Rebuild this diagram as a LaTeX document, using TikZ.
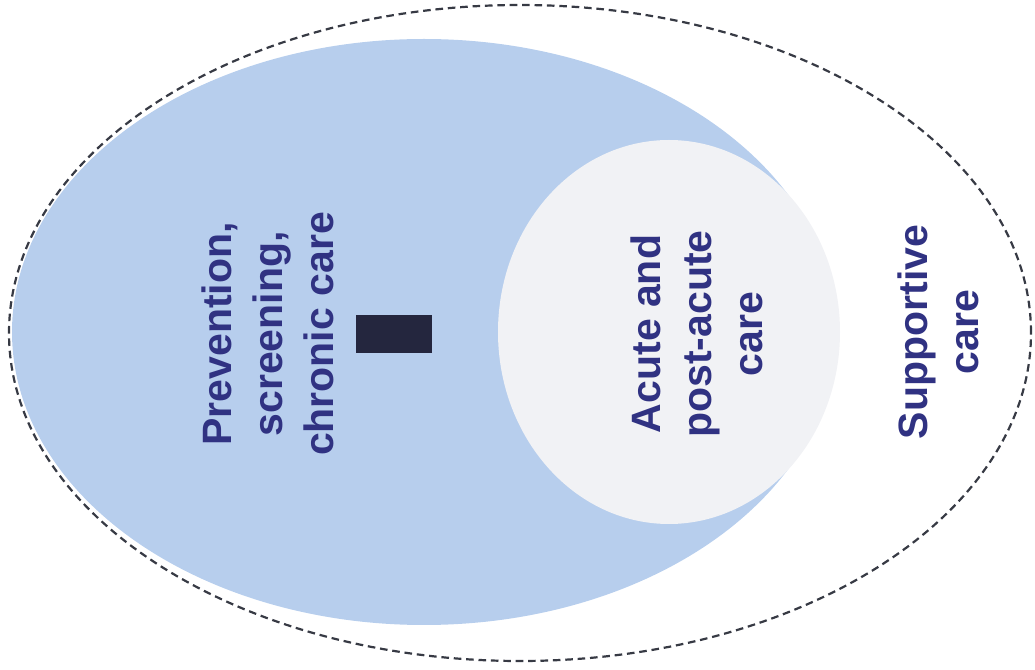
\documentclass[tikz,border=0pt]{standalone}
\usepackage{fontspec}
\setmainfont{Liberation Sans}
\usepackage{xcolor}
\usetikzlibrary{positioning}

\definecolor{careblue}{RGB}{183,206,237}
\definecolor{acutewhite}{RGB}{241,242,245}
\definecolor{labelnavy}{RGB}{48,50,130}
\definecolor{dashgray}{RGB}{55,58,68}
\definecolor{markdark}{RGB}{36,38,62}

\begin{document}
\begin{tikzpicture}[
  x=0.5pt, y=0.5pt,
  lbl/.style={rotate=90, align=center, text=labelnavy,
              font=\fontsize{20.5}{25.5}\selectfont\bfseries},
  outer/.style={draw=dashgray, line width=1.1pt,
                dash pattern=on 3.8pt off 2.4pt},
]
\useasboundingbox (0,0) rectangle (1035,670);

% supportive care (outer, dashed)
\draw[outer] (520,337) ellipse [x radius=511, y radius=328];

% prevention / chronic care
\fill[careblue] (424,338) ellipse [x radius=412, y radius=293];

% acute and post-acute care
\fill[acutewhite] (669,338) ellipse [x radius=171, y radius=192];

% small dark mark in the blue area
\node[fill=markdark, minimum width=38pt, minimum height=19pt,
      inner sep=0pt] (mark) at (394,336) {};

\node[lbl] (prev) at (268,336) {Prevention,\\screening,\\chronic care};
\node[lbl] (acute) at (697,336) {Acute and\\post-acute\\care};
\node[lbl] (supp) at (938,338) {Supportive\\care};
\end{tikzpicture}
\end{document}
